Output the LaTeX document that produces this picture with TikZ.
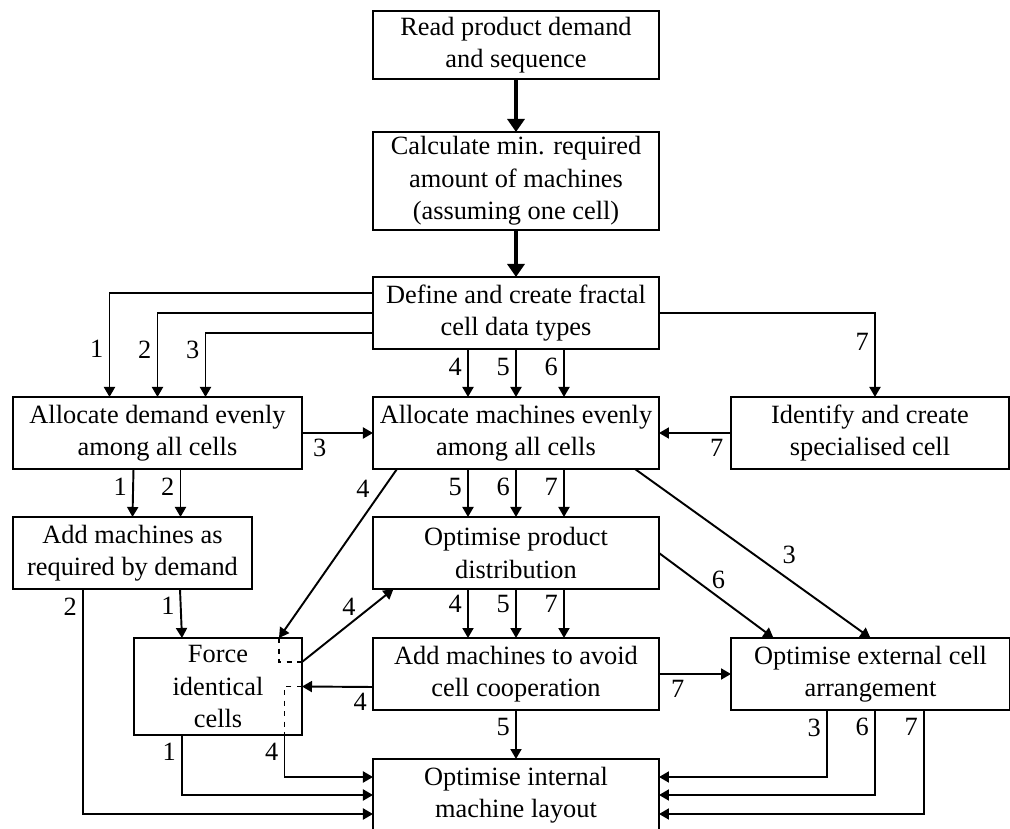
\documentclass[tikz,border=0pt]{standalone}
\usepackage{fontspec}
\setmainfont{Liberation Serif}
\usepackage{tikz}
\usetikzlibrary{positioning, arrows.meta}
\newcommand{\boxfont}{\fontsize{15}{18.5}\selectfont}

\begin{document}
\begin{tikzpicture}[
        node distance=0.96cm and 1.42cm,
        proc/.style={rectangle, draw, line width=1.1pt, outer sep=0pt, minimum width=5.72cm, minimum height=1.44cm, align=center, inner sep=2pt, font=\boxfont},
        num/.style={inner sep=3pt, font=\boxfont},
        arr/.style={-{Triangle[length=2mm, width=2.2mm]}, line width=1.1pt},
        mainarr/.style={-{Triangle[length=2.6mm, width=3.4mm]}, line width=2.2pt},
        via/.style={dashed, line width=1.1pt}
    ]
        \useasboundingbox (-10.32,0.9) rectangle (9.88,-15.68);

        % Main column
        \node[proc, minimum height=1.36cm] (read) {Read product demand\\and sequence};
        \node[proc, minimum height=1.96cm, below=1.06cm of read] (calc) {Calculate min. required\\amount of machines\\(assuming one cell)};
        \node[proc, below=0.94cm of calc] (define) {Define and create fractal\\cell data types};
        \node[proc, below=of define] (allocm) {Allocate machines evenly\\among all cells};
        \node[proc, below=of allocm] (optp) {Optimise product\\distribution};
        \node[proc, below=0.98cm of optp] (adda) {Add machines to avoid\\cell cooperation};
        \node[proc, draw=none, below=0.98cm of adda] (layout) {Optimise internal\\machine layout};

        % Side boxes
        \node[proc, minimum width=5.78cm, left=of allocm] (allocd) {Allocate demand evenly\\among all cells};
        \node[proc, minimum width=5.56cm, right=1.44cm of allocm] (ident) {Identify and create\\specialised cell};
        \node[proc, minimum width=4.78cm, below right=0.96cm and 0cm of allocd.south west] (addd) {Add machines as\\required by demand};
        \node[proc, minimum width=3.36cm, minimum height=1.94cm, below left=0cm and 1.42cm of adda.north west] (force) {Force\\identical\\cells};
        \node[proc, minimum width=5.58cm, right=1.44cm of adda] (opte) {Optimise external cell\\arrangement};

        % open bottom of the last box
        \draw[line width=1.1pt] (layout.south west) |- (layout.north east) -- (layout.south east);

        % Arrows: main sequence
        \draw[mainarr] (read) -- (calc);
        \draw[mainarr] (calc) -- (define);

        % Arrows: data types to allocation
        \draw[arr] ([yshift=0.4cm]define.west) -| ([xshift=-0.96cm]allocd.north) node[num, pos=0.77, left] {1};
        \draw[arr] (define.west) -| (allocd.north) node[num, pos=0.72, left] {2};
        \draw[arr] ([yshift=-0.4cm]define.west) -| ([xshift=0.96cm]allocd.north) node[num, pos=0.63, left] {3};
        \draw[arr] ([xshift=-0.96cm]define.south) -- ([xshift=-0.96cm]allocm.north) node[num, pos=0.375, left] {4};
        \draw[arr] (define.south) -- (allocm.north) node[num, pos=0.375, left] {5};
        \draw[arr] ([xshift=0.96cm]define.south) -- ([xshift=0.96cm]allocm.north) node[num, pos=0.375, left] {6};
        \draw[arr] (define.east) -| ([xshift=0.1cm]ident.north) node[num, pos=0.67, left] {7};

        % Arrows: into machine allocation
        \draw[arr] (allocd) -- (allocm) node[num, pos=0.25, below] {3};
        \draw[arr] (ident) -- (allocm) node[num, pos=0.2, below] {7};

        % Arrows: demand branch
        \draw[arr] ([xshift=-0.48cm]allocd.south) -- (addd.north) node[num, pos=0.375, left] {1};
        \draw[arr] ([xshift=0.46cm]allocd.south) -- ([xshift=0.96cm]addd.north) node[num, pos=0.375, left] {2};
        \draw[arr] ([xshift=0.95cm]addd.south) -- ([xshift=-0.72cm]force.north) node[num, pos=0.35, left] {1};

        % Arrows: machine allocation to distribution
        \draw[arr] ([xshift=-0.96cm]allocm.south) -- ([xshift=-0.96cm]optp.north) node[num, pos=0.375, left] {5};
        \draw[arr] (allocm.south) -- (optp.north) node[num, pos=0.375, left] {6};
        \draw[arr] ([xshift=0.96cm]allocm.south) -- ([xshift=0.96cm]optp.north) node[num, pos=0.375, left] {7};
        \draw[arr] ([xshift=-0.96cm]optp.south) -- ([xshift=-0.96cm]adda.north) node[num, pos=0.31, left] {4};
        \draw[arr] (optp.south) -- (adda.north) node[num, pos=0.31, left] {5};
        \draw[arr] ([xshift=0.96cm]optp.south) -- ([xshift=0.96cm]adda.north) node[num, pos=0.31, left] {7};

        % Arrows: through identical cells
        \draw[arr] ([xshift=-2.38cm]allocm.south) -- ([xshift=1.22cm]force.north) node[num, pos=0.12, left=4pt] {4};
        \draw[via] ([xshift=1.22cm]force.north) |- ([yshift=0.49cm]force.east);
        \draw[arr] ([yshift=0.49cm]force.east) -- ([xshift=-2.45cm]optp.south) node[num, pos=0.75, left=5pt] {4};
        \draw[arr] ([yshift=-0.26cm]adda.west) -- (force.east) node[num, pos=0.18, below] {4};
        \draw[via] (force.east) -| ([xshift=1.33cm]force.south);

        % Arrows: external arrangement
        \draw[arr] (optp.east) -- ([xshift=-1.94cm]opte.north) node[num, pos=0.52, above=1pt] {6};
        \draw[arr] ([xshift=2.38cm]allocm.south) -- (opte.north) node[num, pos=0.6, above right] {3};
        \draw[arr] (adda) -- (opte) node[num, pos=0.26, below] {7};

        % Arrows: into internal layout
        \draw[arr] (adda) -- (layout) node[num, pos=0.35, left] {5};
        \draw[arr] ([xshift=-0.99cm]addd.south) |- ([yshift=-1.1cm]layout.north west) node[num, pos=0.04, left] {2};
        \draw[arr] ([xshift=-0.72cm]force.south) |- ([yshift=-0.72cm]layout.north west) node[num, pos=0.14, left] {1};
        \draw[arr] ([xshift=1.33cm]force.south) |- ([yshift=-0.36cm]layout.north west) node[num, pos=0.2, left] {4};
        \draw[arr] ([xshift=-0.87cm]opte.south) |- ([yshift=-0.36cm]layout.north east) node[num, pos=0.13, left] {3};
        \draw[arr] ([xshift=0.09cm]opte.south) |- ([yshift=-0.72cm]layout.north east) node[num, pos=0.1, left] {6};
        \draw[arr] ([xshift=1.07cm]opte.south) |- ([yshift=-1.1cm]layout.north east) node[num, pos=0.08, left] {7};
    \end{tikzpicture}
\end{document}
